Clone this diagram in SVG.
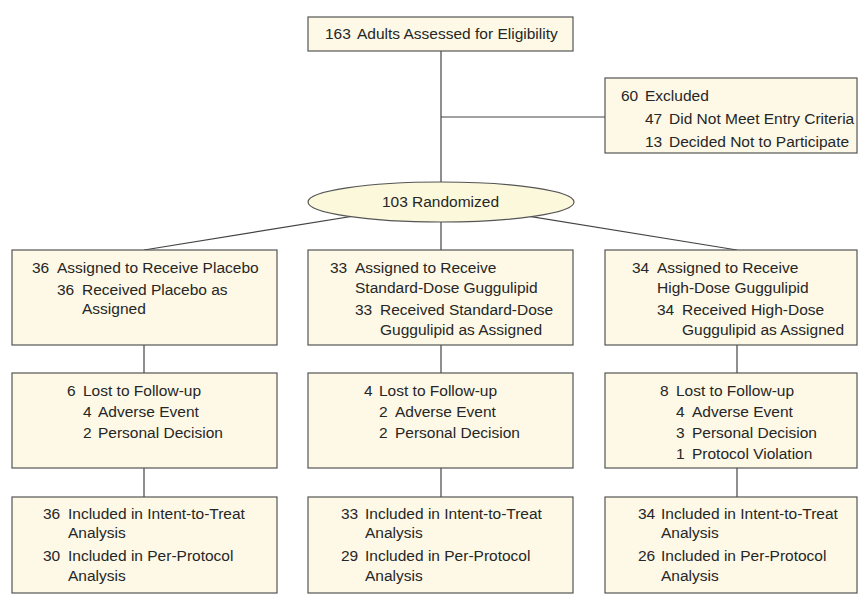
<svg xmlns="http://www.w3.org/2000/svg" width="860" height="600" viewBox="0 0 860 600">
<style>
.box{fill:#fdf9e6;stroke:#555;stroke-width:1.2}
.ell{fill:#fcf8dc;stroke:#555;stroke-width:1.2}
.ln{stroke:#444;stroke-width:1.2;fill:none}
text{font-family:"Liberation Sans",Arial,sans-serif;font-size:15.5px;fill:#262626}
</style>
<rect width="860" height="600" fill="#fff"/>
<g id="connectors">
<line class="ln" x1="441" y1="51" x2="441" y2="182"/>
<line class="ln" x1="441" y1="117" x2="605" y2="117"/>
<line class="ln" x1="441" y1="202" x2="144" y2="250"/>
<line class="ln" x1="441" y1="202" x2="441" y2="250"/>
<line class="ln" x1="441" y1="202" x2="737" y2="250"/>
<line class="ln" x1="144" y1="345" x2="144" y2="373"/>
<line class="ln" x1="441" y1="345" x2="441" y2="373"/>
<line class="ln" x1="737" y1="345" x2="737" y2="373"/>
<line class="ln" x1="144" y1="468" x2="144" y2="497"/>
<line class="ln" x1="441" y1="468" x2="441" y2="497"/>
<line class="ln" x1="737" y1="468" x2="737" y2="497"/>
</g>
<g id="assessed">
<rect class="box" x="308" y="17" width="265" height="34"/>
<text x="325" y="39">163</text><text x="357" y="39">Adults Assessed for Eligibility</text>
</g>
<g id="excluded">
<rect class="box" x="605" y="78" width="252" height="75"/>
<text x="621" y="101">60</text><text x="645" y="101">Excluded</text>
<text x="645" y="124">47</text><text x="669" y="124">Did Not Meet Entry Criteria</text>
<text x="645" y="147">13</text><text x="669" y="147">Decided Not to Participate</text>
</g>
<g id="randomized">
<ellipse class="ell" cx="441" cy="202" rx="133" ry="20"/>
<text x="382" y="207">103</text><text x="412" y="207">Randomized</text>
</g>
<g id="placebo">
<rect class="box" x="12" y="250" width="265" height="95"/>
<text x="32" y="273">36</text><text x="57" y="273">Assigned to Receive Placebo</text>
<text x="57" y="295">36</text><text x="82" y="295">Received Placebo as</text>
<text x="82" y="314">Assigned</text>
</g>
<g id="standard">
<rect class="box" x="308" y="250" width="265" height="95"/>
<text x="330" y="273">33</text><text x="355" y="273">Assigned to Receive</text>
<text x="355" y="293">Standard-Dose Guggulipid</text>
<text x="355" y="315">33</text><text x="380" y="315">Received Standard-Dose</text>
<text x="380" y="335">Guggulipid as Assigned</text>
</g>
<g id="high">
<rect class="box" x="605" y="250" width="252" height="95"/>
<text x="632" y="273">34</text><text x="657" y="273">Assigned to Receive</text>
<text x="657" y="293">High-Dose Guggulipid</text>
<text x="657" y="315">34</text><text x="682" y="315">Received High-Dose</text>
<text x="682" y="335">Guggulipid as Assigned</text>
</g>
<g id="lost-placebo">
<rect class="box" x="12" y="373" width="265" height="95"/>
<text x="67" y="396">6</text><text x="83" y="396">Lost to Follow-up</text>
<text x="83" y="417">4</text><text x="98" y="417">Adverse Event</text>
<text x="83" y="438">2</text><text x="98" y="438">Personal Decision</text>
</g>
<g id="lost-standard">
<rect class="box" x="308" y="373" width="265" height="95"/>
<text x="364" y="396">4</text><text x="379" y="396">Lost to Follow-up</text>
<text x="379" y="417">2</text><text x="395" y="417">Adverse Event</text>
<text x="379" y="438">2</text><text x="395" y="438">Personal Decision</text>
</g>
<g id="lost-high">
<rect class="box" x="605" y="373" width="252" height="95"/>
<text x="660" y="396">8</text><text x="676" y="396">Lost to Follow-up</text>
<text x="676" y="417">4</text><text x="692" y="417">Adverse Event</text>
<text x="676" y="438">3</text><text x="692" y="438">Personal Decision</text>
<text x="676" y="459">1</text><text x="692" y="459">Protocol Violation</text>
</g>
<g id="analysis-placebo">
<rect class="box" x="12" y="497" width="265" height="96"/>
<text x="43" y="519">36</text><text x="68" y="519">Included in Intent-to-Treat</text>
<text x="68" y="538">Analysis</text>
<text x="43" y="561">30</text><text x="68" y="561">Included in Per-Protocol</text>
<text x="68" y="581">Analysis</text>
</g>
<g id="analysis-standard">
<rect class="box" x="308" y="497" width="265" height="96"/>
<text x="341" y="519">33</text><text x="365" y="519">Included in Intent-to-Treat</text>
<text x="365" y="538">Analysis</text>
<text x="341" y="561">29</text><text x="365" y="561">Included in Per-Protocol</text>
<text x="365" y="581">Analysis</text>
</g>
<g id="analysis-high">
<rect class="box" x="605" y="497" width="252" height="96"/>
<text x="638" y="519">34</text><text x="661" y="519">Included in Intent-to-Treat</text>
<text x="661" y="538">Analysis</text>
<text x="638" y="561">26</text><text x="661" y="561">Included in Per-Protocol</text>
<text x="661" y="581">Analysis</text>
</g>
</svg>
